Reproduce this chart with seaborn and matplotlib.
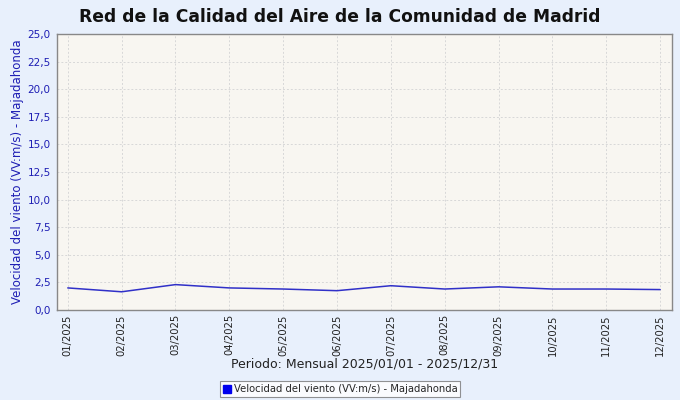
import pandas as pd
import matplotlib
matplotlib.use("Agg")
import matplotlib.pyplot as plt
import seaborn as sns

# datos
meses = ["01/2025", "02/2025", "03/2025", "04/2025", "05/2025", "06/2025",
         "07/2025", "08/2025", "09/2025", "10/2025", "11/2025", "12/2025"]
velocidad = [2.0, 1.65, 2.3, 2.0, 1.9, 1.75, 2.2, 1.9, 2.1, 1.9, 1.9, 1.85]
yticks = [0, 2.5, 5, 7.5, 10, 12.5, 15, 17.5, 20, 22.5, 25]
serie = "Velocidad del viento (VV:m/s) - Majadahonda"

df = pd.DataFrame({"mes": meses, "valor": velocidad})
df["pos"] = range(len(meses))

sns.set_style("white")
plt.rcParams["font.family"] = ["DejaVu Sans"]

bg = "#E8F0FC"
azul = "#1E1EB4"
fig = plt.figure(figsize=(6.8, 4.0), dpi=100, facecolor=bg)
ax = fig.add_axes([57 / 680, 90 / 400, 615 / 680, 276 / 400])
ax.set_facecolor("#F8F6F1")

sns.lineplot(data=df, x="pos", y="valor", ax=ax, color="#3030C8", linewidth=1.1,
             sort=False, legend=False)

ax.set_xlim(-0.2, len(meses) - 1 + 0.22)
ax.set_ylim(0, 25)
ax.set_xticks(df["pos"])
ax.set_xticklabels(meses, rotation=90, fontsize=7.2)
ax.set_yticks(yticks)
ax.set_yticklabels([f"{v:.1f}".replace(".", ",") for v in yticks], fontsize=7.5)
ax.tick_params(axis="both", length=2.5, width=0.8, colors="#888888")
ax.tick_params(axis="x", pad=0.5)
ax.tick_params(axis="y", pad=2)
for lab in ax.get_yticklabels():
    lab.set_color(azul)
for lab in ax.get_xticklabels():
    lab.set_color("#222222")

ax.grid(True, color="#D8D8D8", linestyle=(0, (2, 2)), linewidth=0.7)
for s in ax.spines.values():
    s.set_color("#888888")
    s.set_linewidth(1.0)

ax.set_ylabel(serie, fontsize=8.5, color=azul)
ax.yaxis.set_label_coords(-0.054, 0.5)
ax.set_xlabel("Periodo: Mensual 2025/01/01 - 2025/12/31", fontsize=9, color="#222222", labelpad=1.5)

fig.text(0.5, 0.957, "Red de la Calidad del Aire de la Comunidad de Madrid",
         ha="center", va="center", fontsize=12.3, fontweight="bold", color="#111111")

leg_handle = plt.Rectangle((0, 0), 1, 1, facecolor="#0000EE", edgecolor="#0000EE")
leg = fig.legend([leg_handle], [serie], loc="center", bbox_to_anchor=(0.5, 0.027),
                 fontsize=7.2, frameon=True, fancybox=False, handlelength=0.8,
                 handleheight=0.8, handletextpad=0.3, borderpad=0.3, borderaxespad=0)
leg.get_frame().set_edgecolor("#777777")
leg.get_frame().set_facecolor("white")
leg.get_frame().set_linewidth(0.8)

fig.savefig("out.png", dpi=100, facecolor=bg)
